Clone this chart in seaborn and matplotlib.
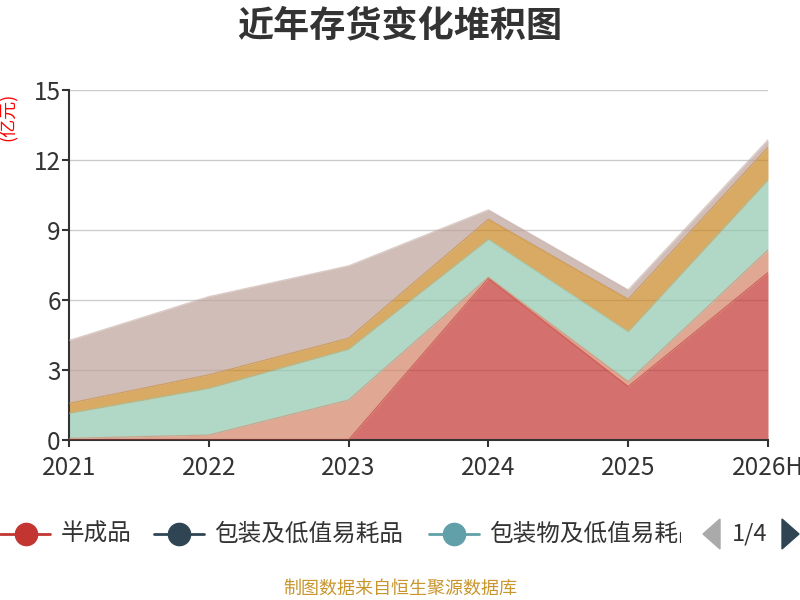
import numpy as np
import seaborn as sns
import matplotlib.pyplot as plt
from matplotlib.lines import Line2D
from matplotlib.patches import Polygon
from matplotlib.transforms import Bbox

years = ["2021", "2022", "2023", "2024", "2025", "2026H"]

# 存货分项 (亿元)
series_names = ["半成品", "包装及低值易耗品", "包装物及低值易耗品", "产成品", "发出商品",
                "合同履约成本", "库存商品", "原材料", "在产品", "周转材料"]
ban_cheng_pin = [0.0, 0.0, 0.0, 6.93, 2.29, 7.17]
bao_zhuang_di_zhi = [0.0, 0.0, 0.0, 0.0, 0.0, 0.0]
bao_zhuang_wu_di_zhi = [0.0, 0.0, 0.0, 0.0, 0.0, 0.0]
chan_cheng_pin = [0.07, 0.21, 1.71, 0.04, 0.21, 0.97]
fa_chu_shang_pin = [1.07, 2.00, 2.18, 1.63, 2.14, 3.00]
he_tong_lv_yue = [0.0, 0.0, 0.0, 0.0, 0.0, 0.0]
ku_cun_shang_pin = [0.43, 0.58, 0.47, 0.86, 1.39, 1.40]
yuan_cai_liao = [2.69, 3.35, 3.10, 0.40, 0.40, 0.32]
zai_chan_pin = [0.0, 0.0, 0.0, 0.0, 0.0, 0.0]
zhou_zhuan_cai_liao = [0.0, 0.0, 0.0, 0.0, 0.0, 0.0]

legend_page = ["半成品", "包装及低值易耗品", "包装物及低值易耗品"]

palette = ['#c23531', '#2f4554', '#61a0a8', '#d48265', '#91c7ae',
           '#749f83', '#ca8622', '#bda29a', '#6e7074', '#546570']

values = [ban_cheng_pin, bao_zhuang_di_zhi, bao_zhuang_wu_di_zhi, chan_cheng_pin,
          fa_chu_shang_pin, he_tong_lv_yue, ku_cun_shang_pin, yuan_cai_liao,
          zai_chan_pin, zhou_zhuan_cai_liao]

sns.set_theme(style="white")
plt.rcParams['font.family'] = ['Noto Sans CJK SC', 'DejaVu Sans']

W, H = 800, 600
fig = plt.figure(figsize=(8, 6), dpi=100)


def fx(px):
    return px / W


def fy(py):
    return 1 - py / H


ax = fig.add_axes([fx(69), fy(440), fx(768) - fx(69), fy(90) - fy(440)])

x = np.arange(len(years))
data = np.array(values)
ax.stackplot(x, data, colors=palette, alpha=0.7, linewidth=0, zorder=2)

# thin top edge of every non-empty layer
tops = np.cumsum(data, axis=0)
for i, row in enumerate(data):
    if row.sum() > 0:
        sns.lineplot(x=x, y=tops[i], color=palette[i], alpha=0.55, lw=1,
                     ax=ax, zorder=3)

ax.set_xlim(0, len(years) - 1)
ax.set_ylim(0, 15)
ax.set_yticks([0, 3, 6, 9, 12, 15])
ax.set_xticks(x)
ax.set_xticklabels(years)
ax.yaxis.grid(True, color='#cccccc', lw=1, zorder=1)
ax.xaxis.grid(False)
ax.set_axisbelow(True)
for s in ['top', 'right']:
    ax.spines[s].set_visible(False)
for s in ['left', 'bottom']:
    ax.spines[s].set_color('#333333')
    ax.spines[s].set_linewidth(1.5)
ax.tick_params(axis='both', colors='#333333', labelsize=17.5, length=5, width=1.5,
               direction='out', left=True, bottom=True)
ax.tick_params(axis='y', pad=1)
ax.tick_params(axis='x', pad=6)

fig.text(fx(400), fy(26), "近年存货变化堆积图", ha='center', va='center',
         fontsize=26, fontweight='bold', color='#333333')
fig.text(fx(8), fy(117), "(亿元)", ha='center', va='center', rotation=90,
         fontsize=13, color='red')

# legend page 1/4
ly = fy(534)
leg_items = [(0, 26, 61), (154, 179, 214), (429, 454, 489)]
clip = Bbox([[0, 0], [681, H]])
for (x0, cx, tx), name, col in zip(leg_items, legend_page, palette):
    fig.add_artist(Line2D([fx(x0), fx(x0 + 50)], [ly, ly], color=col, lw=2,
                          transform=fig.transFigure))
    fig.add_artist(Line2D([fx(cx)], [ly], color=col, marker='o', markersize=16,
                          transform=fig.transFigure))
    t = fig.text(fx(tx), ly, name, ha='left', va='center', fontsize=17,
                 color='#333333')
    t.set_clip_box(clip)
    t.set_clip_on(True)

fig.add_artist(Polygon([[fx(703), ly], [fx(720), fy(519)], [fx(720), fy(549)]],
                       closed=True, color='#aaaaaa', transform=fig.transFigure))
fig.text(fx(750), ly, "1/4", ha='center', va='center', fontsize=17,
         color='#333333')
fig.add_artist(Polygon([[fx(799), ly], [fx(782), fy(519)], [fx(782), fy(549)]],
                       closed=True, color='#2f4554', transform=fig.transFigure))

fig.text(fx(400), fy(589), "制图数据来自恒生聚源数据库", ha='center', va='center',
         fontsize=13, color='#c9962e')

fig.savefig("out.png", dpi=100)
